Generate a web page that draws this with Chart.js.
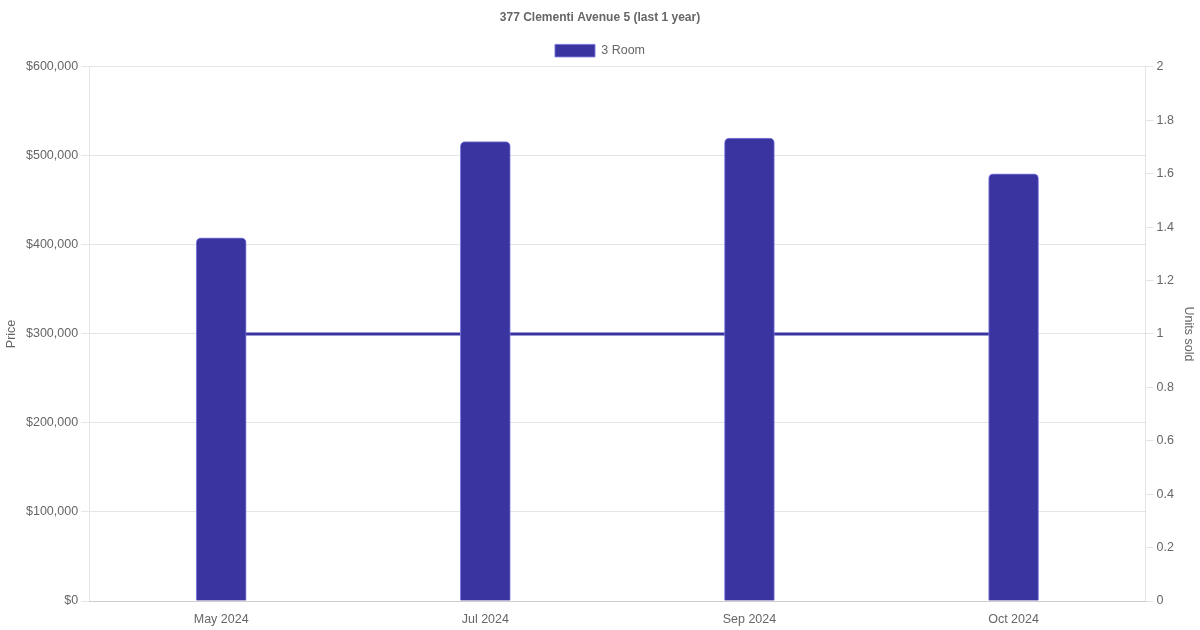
<!DOCTYPE html>
<html lang="en">
<head>
    <meta charset="UTF-8">
    <title>377 Clementi Avenue 5 (last 1 year)</title>
    <script src="https://cdn.jsdelivr.net/npm/chart.js"></script>
    <style>
        body {
            margin: 0;
            padding: 0;
            background: #ffffff;
        }
        .wrap {
            width: 1200px;
            height: 630px;
        }
    </style>
</head>
<body>
    <div class="wrap"><canvas id="salesChart"></canvas></div>

    <script>
        const months = ["May 2024", "Jul 2024", "Sep 2024", "Oct 2024"];
        const prices = [408000, 516000, 520000, 480000];
        const unitsSold = [1, 1, 1, 1];

        const barColor = 'rgb(57, 52, 160)';
        const tickFont = { size: 12.5 };

        const ctx = document.getElementById('salesChart').getContext('2d');
        const chart = new Chart(ctx, {
            type: 'bar',
            data: {
                labels: months,
                datasets: [
                    {
                        label: '3 Room',
                        data: prices,
                        backgroundColor: barColor,
                        borderColor: 'rgba(120, 115, 220, 0.9)',
                        borderWidth: 1,
                        borderRadius: 5,
                        borderSkipped: 'bottom',
                        barThickness: 50,
                        yAxisID: 'y',
                        order: 1
                    },
                    {
                        type: 'line',
                        label: 'Units sold',
                        data: unitsSold,
                        borderColor: barColor,
                        backgroundColor: barColor,
                        borderWidth: 3,
                        pointRadius: 0,
                        yAxisID: 'y1',
                        order: 2
                    }
                ]
            },
            options: {
                responsive: true,
                maintainAspectRatio: false,
                animation: false,
                plugins: {
                    title: {
                        display: true,
                        text: '377 Clementi Avenue 5 (last 1 year)',
                        color: '#666',
                        font: { size: 12, weight: 'bold' }
                    },
                    legend: {
                        labels: {
                            color: '#666',
                            font: tickFont,
                            filter: item => item.text === '3 Room'
                        }
                    }
                },
                scales: {
                    x: {
                        ticks: { color: '#666', font: tickFont },
                        grid: { display: false }
                    },
                    y: {
                        position: 'left',
                        min: 0,
                        max: 600000,
                        ticks: {
                            stepSize: 100000,
                            color: '#666',
                            font: tickFont,
                            callback: v => '$' + v.toLocaleString('en-US')
                        },
                        title: { display: true, text: 'Price', color: '#666', font: tickFont }
                    },
                    y1: {
                        position: 'right',
                        min: 0,
                        max: 2,
                        ticks: {
                            stepSize: 0.2,
                            color: '#666',
                            font: tickFont,
                            callback: v => String(Number(v.toFixed(1)))
                        },
                        grid: { drawOnChartArea: false },
                        title: { display: true, text: 'Units sold', color: '#666', font: tickFont }
                    }
                }
            }
        });
    </script>
</body>
</html>
